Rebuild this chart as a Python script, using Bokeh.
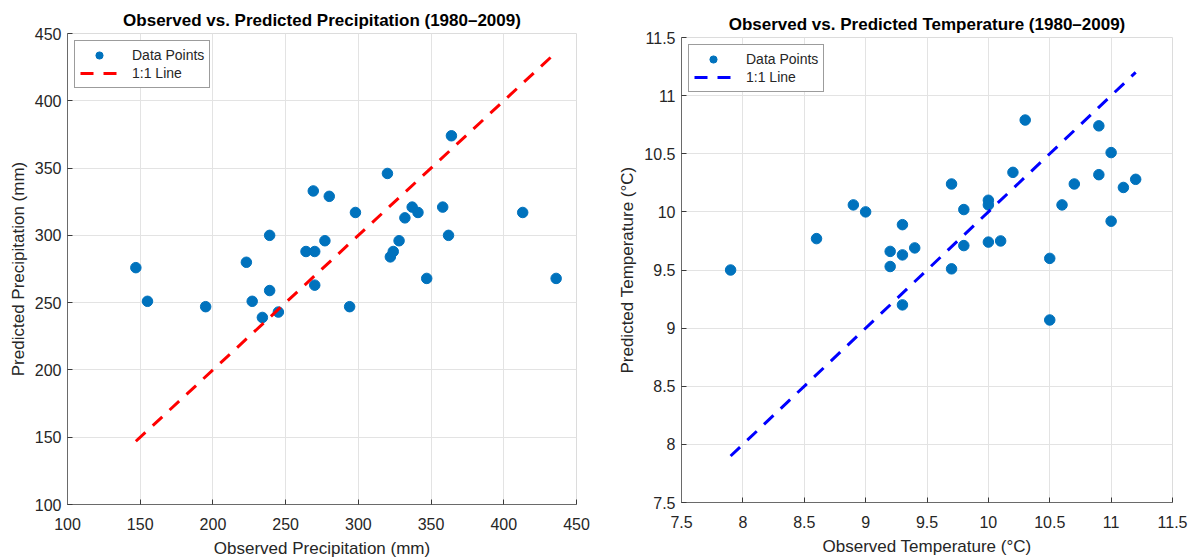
from bokeh.plotting import figure
from bokeh.models import Range1d, FixedTicker, CustomJSTickFormatter
from bokeh.layouts import row, column
from bokeh.embed import file_html
from bokeh.resources import INLINE

# ---- data ----
precip_obs = [147, 155, 195, 223, 227, 234, 239, 239, 245, 264,
              269, 270, 270, 277, 280, 294, 298, 320, 322, 324,
              328, 332, 337, 341, 347, 358, 362, 364, 413, 436]
precip_pred = [276, 251, 247, 280, 251, 239, 259, 300, 243, 288,
               333, 288, 263, 296, 329, 247, 317, 346, 284, 288,
               296, 313, 321, 317, 268, 321, 300, 374, 317, 268]

temp_obs = [7.9, 8.6, 8.9, 9.0, 9.2, 9.2, 9.3, 9.3, 9.3, 9.4,
            9.7, 9.7, 9.8, 9.8, 10.0, 10.0, 10.0, 10.1, 10.2, 10.3,
            10.5, 10.5, 10.6, 10.7, 10.9, 10.9, 11.0, 11.0, 11.1, 11.2]
temp_pred = [9.50, 9.77, 10.06, 10.00, 9.66, 9.53, 9.89, 9.63, 9.20, 9.69,
             10.24, 9.51, 10.02, 9.71, 10.10, 10.06, 9.74, 9.75, 10.34, 10.79,
             9.60, 9.07, 10.06, 10.24, 10.74, 10.32, 10.51, 9.92, 10.21, 10.28]

precip_ticks = [100, 150, 200, 250, 300, 350, 400, 450]
temp_ticks = [7.5, 8, 8.5, 9, 9.5, 10, 10.5, 11, 11.5]

FONT = "Liberation Sans"
TXT = "#262626"


def make_panel(obs, pred, line_color, title, xlabel, ylabel, lo, hi, ticks,
               width, height, bl, br, bt, bb, title_standoff):
    p = figure(width=width, height=height,
               x_range=Range1d(lo, hi), y_range=Range1d(lo, hi),
               output_backend="svg", toolbar_location=None,
               min_border_left=bl, min_border_right=br,
               min_border_top=bt, min_border_bottom=bb,
               title=title)
    p.title.text_font = FONT
    p.title.text_font_size = "17px"
    p.title.text_font_style = "bold"
    p.title.text_color = "black"
    p.title.align = "center"
    p.title.standoff = title_standoff
    p.title.offset = 0

    p.scatter(obs, pred, marker="circle", size=10.5, color="#0072BD",
              line_color="#0072BD", legend_label="Data Points")
    lx = [min(obs), max(obs)]
    p.line(lx, lx, line_color=line_color, line_width=3, line_dash="13 10",
           legend_label="1:1 Line")

    fmt = CustomJSTickFormatter(code="return String(Math.round(tick*100)/100);")
    for ax in (p.xaxis[0], p.yaxis[0]):
        ax.ticker = FixedTicker(ticks=ticks)
        ax.formatter = fmt
        ax.major_tick_in = 5
        ax.major_tick_out = 0
        ax.minor_tick_line_color = None
        ax.axis_line_color = "#6a6a6a"
        ax.major_tick_line_color = "#3a3a3a"
        ax.major_label_text_font = FONT
        ax.major_label_text_font_size = "16px"
        ax.major_label_text_color = TXT
        ax.axis_label_text_font = FONT
        ax.axis_label_text_font_size = "17px"
        ax.axis_label_text_font_style = "normal"
        ax.axis_label_text_color = TXT
    p.xaxis.axis_label = xlabel
    p.yaxis.axis_label = ylabel
    p.xaxis.major_label_standoff = 13
    p.yaxis.major_label_standoff = 6
    p.xaxis.axis_label_standoff = 6
    p.yaxis.axis_label_standoff = 4

    p.grid.grid_line_color = "#e3e3e3"
    p.grid.grid_line_width = 1
    p.outline_line_color = "#dcdcdc"
    p.background_fill_color = "white"
    p.border_fill_color = "white"

    lg = p.legend[0]
    lg.location = "top_left"
    lg.margin = 7
    lg.padding = 5
    lg.spacing = 0
    lg.glyph_width = 38
    lg.glyph_height = 18
    lg.label_height = 18
    lg.label_standoff = 14
    lg.label_text_font = FONT
    lg.label_text_font_size = "14px"
    lg.label_text_color = TXT
    lg.border_line_color = "#3a3a3a"
    lg.border_line_width = 1
    lg.background_fill_alpha = 1
    return p


p1 = make_panel(precip_obs, precip_pred, "#FF0000",
                "Observed vs. Predicted Precipitation (1980\u20132009)",
                "Observed Precipitation (mm)", "Predicted Precipitation (mm)",
                100, 450, precip_ticks, 600, 560, 67, 24, 33, 56, 7)
p2 = make_panel(temp_obs, temp_pred, "#0000FF",
                "Observed vs. Predicted Temperature (1980\u20132009)",
                "Observed Temperature (\u00b0C)", "Predicted Temperature (\u00b0C)",
                7.5, 11.5, temp_ticks, 593, 560, 81, 21, 37, 58, 8)

layout = row(column(p1), column(p2))
open("out.html", "w").write(file_html(layout, INLINE))
